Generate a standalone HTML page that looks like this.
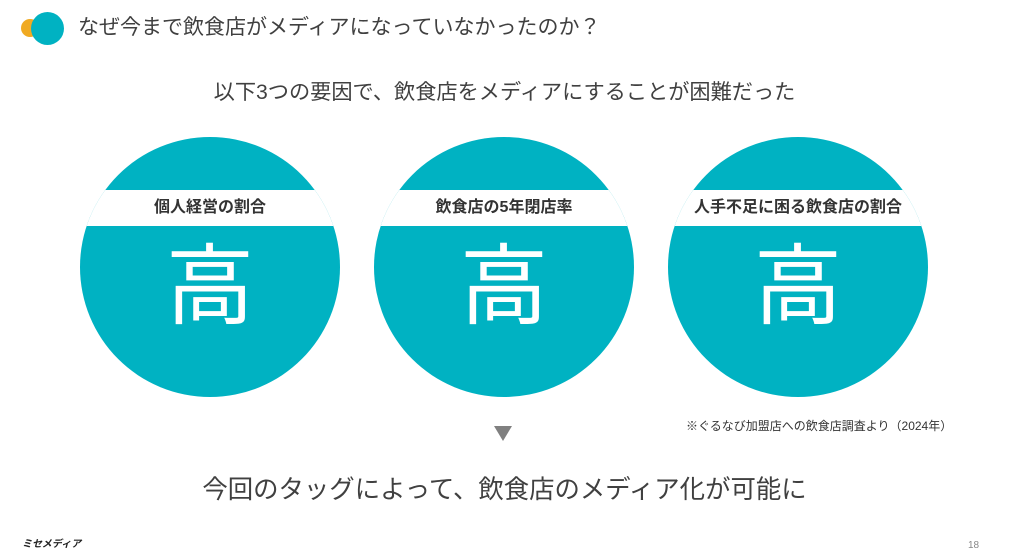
<!DOCTYPE html>
<html><head><meta charset="utf-8"><style>
body{margin:0;width:1009px;height:552px;background:#fff;position:relative;overflow:hidden;font-family:"Liberation Sans","Noto Sans CJK JP",sans-serif;color:#404040}
.a{position:absolute}
.c{position:absolute;width:260px;height:260px;border-radius:50%;background:#00b2c2;top:137px;overflow:hidden}
.band{position:absolute;left:0;right:0;top:53px;height:36px;background:#fff;text-align:center;font-weight:bold;font-size:16px;line-height:36px;color:#333}
.k{position:absolute;left:0;right:0;top:100px;text-align:center;color:#fff;font-size:88px;line-height:100px}
</style></head><body>
<div class="a" style="left:21px;top:19px;width:18px;height:18px;border-radius:50%;background:#f0aa22"></div>
<div class="a" style="left:31px;top:12px;width:33px;height:33px;border-radius:50%;background:#00b2c2"></div>
<div class="a" style="left:78px;top:14px;font-size:21px;line-height:28px;color:#404040">なぜ今まで飲食店がメディアになっていなかったのか？</div>
<div class="a" style="left:0;width:1009px;top:78px;text-align:center;font-size:21.2px;line-height:30px">以下3つの要因で、飲食店をメディアにすることが困難だった</div>
<div class="c" style="left:80px"><div class="band">個人経営の割合</div><div class="k">高</div></div>
<div class="c" style="left:374px"><div class="band">飲食店の5年閉店率</div><div class="k">高</div></div>
<div class="c" style="left:668px"><div class="band">人手不足に困る飲食店の割合</div><div class="k">高</div></div>
<div class="a" style="left:686px;top:417px;font-size:12px;color:#333">※ぐるなび加盟店への飲食店調査より（2024年）</div>
<div class="a" style="left:494px;top:426px;width:0;height:0;border-left:9px solid transparent;border-right:9px solid transparent;border-top:15px solid #808080"></div>
<div class="a" style="left:0;width:1009px;top:472px;text-align:center;font-size:25.4px;line-height:36px;color:#404040">今回のタッグによって、飲食店のメディア化が可能に</div>
<div class="a" style="left:22px;top:539px;font-size:10px;font-weight:bold;font-style:italic;color:#222;line-height:12px">ミセメディア</div>
<div class="a" style="left:968px;top:540px;font-size:10px;color:#888">18</div>
</body></html>
